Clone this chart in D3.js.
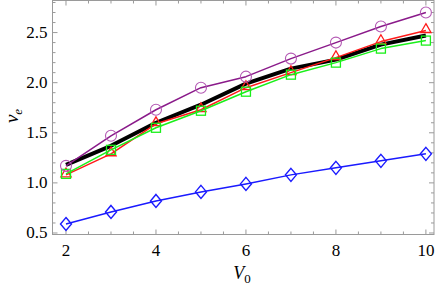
<!DOCTYPE html>
<html lang="en">
<head>
<meta charset="UTF-8">
<title>v_e vs V_0</title>
<script src="https://d3js.org/d3.v7.min.js"></script>
<style>
    body { margin: 0; background: white; }
    svg { display: block; }
    svg text { font-family: "Liberation Serif", "DejaVu Serif", serif; fill: black; }
</style>
</head>
<body>
<svg width="436" height="289"></svg>
<script>
    // values
    const v0 = [2, 3, 4, 5, 6, 7, 8, 9, 10];
    const blackLine = [1.18, 1.37, 1.60, 1.78, 1.99, 2.14, 2.23, 2.38, 2.47];
    const redTri = [1.08, 1.29, 1.59, 1.73, 1.95, 2.10, 2.25, 2.41, 2.52];
    const greenSq = [1.09, 1.33, 1.55, 1.72, 1.91, 2.08, 2.20, 2.34, 2.42];
    const purpleCirc = [1.17, 1.47, 1.73, 1.95, 2.06, 2.24, 2.40, 2.56, 2.70];
    const blueDia = [0.59, 0.71, 0.82, 0.91, 0.99, 1.08, 1.15, 1.22, 1.29];

    const xTicks = [2, 4, 6, 8, 10];
    const yTicks = [0.5, 1.0, 1.5, 2.0, 2.5];

    const svg = d3.select("svg");
    const plotLeft = 52.5, plotRight = 434, plotTop = 0.5, plotBottom = 234.5;

    const x = d3.scaleLinear().domain([1.7, 10.18]).range([plotLeft, plotRight]);
    const y = d3.scaleLinear().domain([0.485, 2.82]).range([plotBottom, plotTop]);

    const frameColor = "#9a9a9a";

    // frame
    svg.append("rect")
        .attr("x", plotLeft).attr("y", plotTop)
        .attr("width", plotRight - plotLeft).attr("height", plotBottom - plotTop)
        .attr("fill", "none").attr("stroke", frameColor).attr("stroke-width", 1);

    // ticks (inward, all four sides)
    const g = svg.append("g").attr("stroke", frameColor).attr("stroke-width", 1);
    const xMinor = d3.range(2, 10.01, 0.5);
    xMinor.forEach(function (t) {
        const major = xTicks.includes(t);
        const len = major ? 5 : 3;
        g.append("line").attr("x1", x(t)).attr("x2", x(t)).attr("y1", plotBottom).attr("y2", plotBottom - len);
        g.append("line").attr("x1", x(t)).attr("x2", x(t)).attr("y1", plotTop).attr("y2", plotTop + len);
    });
    const yMinor = d3.range(0.5, 2.81, 0.1);
    yMinor.forEach(function (t) {
        const major = yTicks.some(function (m) { return Math.abs(m - t) < 1e-6; });
        const len = major ? 5 : 3;
        g.append("line").attr("y1", y(t)).attr("y2", y(t)).attr("x1", plotLeft).attr("x2", plotLeft + len);
        g.append("line").attr("y1", y(t)).attr("y2", y(t)).attr("x1", plotRight).attr("x2", plotRight - len);
    });

    // tick labels
    svg.append("g").selectAll("text").data(xTicks).join("text")
        .attr("x", function (d) { return x(d); })
        .attr("y", plotBottom + 21)
        .attr("text-anchor", "middle")
        .style("font-size", "17px")
        .text(function (d) { return d; });

    svg.append("g").selectAll("text").data(yTicks).join("text")
        .attr("x", plotLeft - 5)
        .attr("y", function (d) { return y(d) + 5.5; })
        .attr("text-anchor", "end")
        .style("font-size", "17px")
        .text(function (d) { return d3.format(".1f")(d); });

    // axis titles
    const xt = svg.append("text")
        .attr("x", x(6) - 4).attr("y", 279)
        .attr("text-anchor", "middle")
        .style("font-size", "18px");
    xt.append("tspan").style("font-style", "italic").text("V");
    xt.append("tspan").style("font-size", "13px").attr("dy", 4).text("0");

    const yt = svg.append("text")
        .attr("transform", "translate(18,116) rotate(-90)")
        .attr("text-anchor", "middle")
        .style("font-size", "19px");
    yt.append("tspan").style("font-style", "italic").text("v");
    yt.append("tspan").style("font-style", "italic").style("font-size", "13px").attr("dy", 4).text("e");

    const line = d3.line()
        .x(function (d) { return x(d[0]); })
        .y(function (d) { return y(d[1]); });

    function series(vals, color, width) {
        const pts = v0.map(function (v, i) { return [v, vals[i]]; });
        svg.append("path").datum(pts)
            .attr("d", line)
            .attr("fill", "none")
            .attr("stroke", color)
            .attr("stroke-width", width)
            .attr("stroke-linejoin", "round");
        return pts;
    }

    // black thick line
    series(blackLine, "black", 4);

    // red triangles
    const redPts = series(redTri, "#ff1a1a", 1.5);
    svg.append("g").selectAll("path").data(redPts).join("path")
        .attr("d", d3.symbol().type(d3.symbolTriangle).size(45))
        .attr("transform", function (d) { return "translate(" + x(d[0]) + "," + (y(d[1]) - 1) + ")"; })
        .attr("fill", "none").attr("stroke", "#ff1a1a").attr("stroke-width", 1.3);

    // green squares
    const greenPts = series(greenSq, "#1aef1a", 1.5);
    svg.append("g").selectAll("rect").data(greenPts).join("rect")
        .attr("x", function (d) { return x(d[0]) - 4.5; })
        .attr("y", function (d) { return y(d[1]) - 4.5; })
        .attr("width", 9).attr("height", 9)
        .attr("fill", "none").attr("stroke", "#1aef1a").attr("stroke-width", 1.3);

    // purple circles
    const purplePts = series(purpleCirc, "#8a1a8a", 1.5);
    svg.append("g").selectAll("circle").data(purplePts).join("circle")
        .attr("cx", function (d) { return x(d[0]); })
        .attr("cy", function (d) { return y(d[1]); })
        .attr("r", 5.5)
        .attr("fill", "none").attr("stroke", "#b45ab4").attr("stroke-width", 1.1);

    // blue diamonds (slightly taller than wide)
    const diamond = {
        draw: function (ctx) {
            ctx.moveTo(0, -6.5); ctx.lineTo(5.5, 0); ctx.lineTo(0, 6.5); ctx.lineTo(-5.5, 0); ctx.closePath();
        }
    };
    const bluePts = series(blueDia, "#1a1aff", 1.5);
    svg.append("g").selectAll("path").data(bluePts).join("path")
        .attr("d", d3.symbol().type(diamond))
        .attr("transform", function (d) { return "translate(" + x(d[0]) + "," + y(d[1]) + ")"; })
        .attr("fill", "none").attr("stroke", "#1a1aff").attr("stroke-width", 1.4);
</script>
</body>
</html>
